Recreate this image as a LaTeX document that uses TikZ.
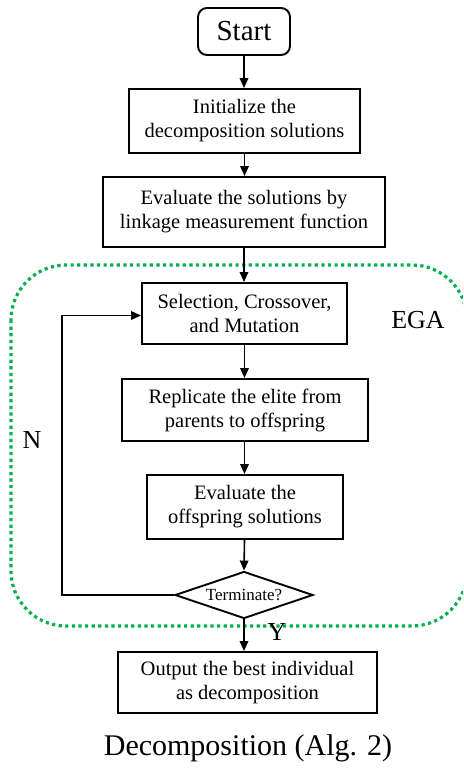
\documentclass[tikz,border=0pt]{standalone}
\usepackage{fontspec}
\setmainfont{Liberation Serif}
\usetikzlibrary{arrows.meta,shapes.geometric}
\definecolor{egagreen}{RGB}{0,176,80}
\begin{document}
\begin{tikzpicture}[x=1pt,y=-1pt,
  stepbox/.style={draw,line width=1.9pt,align=center,inner sep=0pt,
    font=\fontsize{20.5}{24}\selectfont},
  startbox/.style={stepbox,rounded corners=9pt,font=\fontsize{29}{32}\selectfont},
  decision/.style={draw,line width=1.9pt,diamond,aspect=2.9,inner sep=0pt,
    font=\fontsize{17}{20}\selectfont},
  flow/.style={line width=1.6pt,-{Triangle[length=10pt,width=8.5pt]}},
  region/.style={draw=egagreen,line width=3.2pt,dash pattern=on 3.2pt off 3.4pt,
    rounded corners=55pt},
  tag/.style={font=\fontsize{26}{28}\selectfont,inner sep=0pt}]
\clip (0,0) rectangle (463,773);
\fill[white] (0,0) rectangle (463,773);

% EGA loop region
\draw[region] (11,265) rectangle (467,626);

% process steps
\node[startbox,minimum width=92pt,minimum height=47pt] (start) at (244,31.5) {Start};
\node[stepbox,minimum width=231pt,minimum height=64pt] (init) at (244.5,121)
  {Initialize the\\decomposition solutions};
\node[stepbox,minimum width=282pt,minimum height=70pt] (eval) at (244,212)
  {Evaluate the solutions by\\linkage measurement function};
\node[stepbox,minimum width=205pt,minimum height=61pt] (sel) at (244.5,313.5)
  {Selection, Crossover,\\and Mutation};
\node[stepbox,minimum width=246pt,minimum height=62pt] (rep) at (245,410)
  {Replicate the elite from\\parents to offspring};
\node[stepbox,minimum width=196pt,minimum height=64pt] (offs) at (245,507)
  {Evaluate the\\offspring solutions};
\node[decision,minimum width=138pt,minimum height=47pt] (term) at (244,595)
  {Terminate?};
\node[stepbox,minimum width=259pt,minimum height=61pt] (out) at (247.5,682.5)
  {Output the best individual\\as decomposition};

% labels
\node[tag] (ega) at (418,320) {EGA};
\node[tag] (no) at (32,440) {N};
\node[tag] (yes) at (277,632) {Y};
\node[font=\fontsize{30}{32}\selectfont,inner sep=0pt] (caption) at (248,748)
  {Decomposition (Alg. 2)};

% connectors
\draw[flow] (start.south) -- (start.south |- init.north);
\draw[flow] (init.south) -- (init.south |- eval.north);
\draw[flow] (eval.south) -- (eval.south |- sel.north);
\draw[flow] (sel.south) -- (sel.south |- rep.north);
\draw[flow] (rep.south -| sel.south) -- (sel.south |- offs.north);
\draw[flow] (offs.south -| sel.south) -- (term.north);
\draw[flow] (term.south) -- (term.south |- out.north);
\coordinate (loopturn) at (62,595);
\draw[flow] (term.west) -- (loopturn) |- ([yshift=-2pt]sel.west);
\end{tikzpicture}
\end{document}
